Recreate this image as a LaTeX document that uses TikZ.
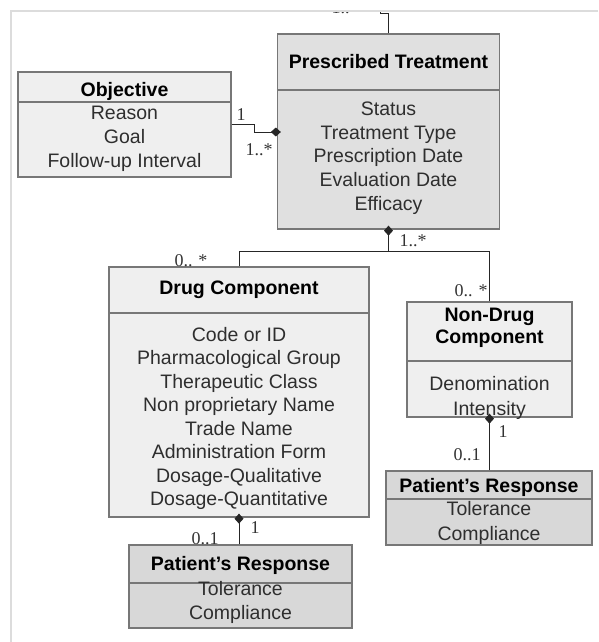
\documentclass[tikz,border=0pt]{standalone}
\usepackage{fontspec}
\setmainfont{Liberation Sans}
\newfontfamily\multfont{Liberation Serif}
\usetikzlibrary{arrows.meta}
\definecolor{boxline}{HTML}{777777}
\definecolor{lightfill}{HTML}{EFEFEF}
\definecolor{midfill}{HTML}{E0E0E0}
\definecolor{darkfill}{HTML}{D8D8D8}
\definecolor{framegray}{HTML}{DCDCDC}
\tikzset{
  classbox/.style={draw=boxline, line width=1.3pt, inner sep=0pt},
  divider/.style={draw=boxline, line width=1.3pt},
  classtitle/.style={anchor=base, inner sep=0pt, font=\fontsize{19.5}{23.5}\selectfont\bfseries},
  classattr/.style={anchor=base, inner sep=0pt, text=black!82, font=\fontsize{19.5}{23.5}\selectfont},
  assoc/.style={line width=1pt, black!85},
  owner/.style={assoc, shorten >=-4pt, -{Diamond[length=10pt,width=9pt]}},
  mult/.style={inner sep=0pt, text=black!80, font=\multfont\fontsize{18}{20}\selectfont},
}
\begin{document}
\begin{tikzpicture}[x=1pt,y=-1pt]
    \useasboundingbox (0,0) rectangle (598,642);
    % Class boxes
    \node[classbox, fill=lightfill, minimum width=213pt, minimum height=105pt] (obj) at (124.5,124.5) {};
    \node[classbox, fill=midfill, minimum width=222pt, minimum height=195pt] (pt) at (388.5,131.5) {};
    \node[classbox, fill=lightfill, minimum width=260pt, minimum height=250pt] (drug) at (239,392) {};
    \node[classbox, fill=lightfill, minimum width=165pt, minimum height=115pt] (nondrug) at (489.5,359.5) {};
    \node[classbox, fill=darkfill, minimum width=223pt, minimum height=83pt] (resp1) at (240.5,586.5) {};
    \node[classbox, fill=darkfill, minimum width=206pt, minimum height=74pt] (resp2) at (489,508) {};
    % Header dividers
    \draw[divider] (obj.west |- 0,102) -- (obj.east |- 0,102);
    \draw[divider] (pt.west |- 0,90) -- (pt.east |- 0,90);
    \draw[divider] (drug.west |- 0,313) -- (drug.east |- 0,313);
    \draw[divider] (nondrug.west |- 0,361) -- (nondrug.east |- 0,361);
    \draw[divider] (resp1.west |- 0,583) -- (resp1.east |- 0,583);
    \draw[divider] (resp2.west |- 0,499) -- (resp2.east |- 0,499);
    % Objective
    \node[classtitle] (obj-name) at (124.5,96) {Objective};
    \foreach \txt/\yy [count=\i] in {Reason/112, Goal/136, Follow-up Interval/160}
        \node[classattr] (obj-a\i) at (124.5,\yy+7) {\txt};
    % Prescribed Treatment
    \node[classtitle] (pt-name) at (388.5,69) {Prescribed Treatment};
    \foreach \txt/\yy [count=\i] in {Status/108, Treatment Type/132, Prescription Date/155, Evaluation Date/179, Efficacy/203}
        \node[classattr] (pt-a\i) at (388.5,\yy+7) {\txt};
    % Drug Component
    \node[classtitle] (drug-name) at (239,294) {Drug Component};
    \foreach \txt/\yy [count=\i] in {Code or ID/334, Pharmacological Group/357, Therapeutic Class/381, Non proprietary Name/404,
        Trade Name/428, Administration Form/451, Dosage-Qualitative/475, Dosage-Quantitative/498}
        \node[classattr] (drug-a\i) at (239,\yy+7) {\txt};
    % Non-Drug Component
    \node[classtitle] (nondrug-name1) at (489.5,321) {Non-Drug};
    \node[classtitle] (nondrug-name2) at (489.5,343) {Component};
    \node[classattr] (nondrug-a1) at (489.5,390) {Denomination};
    \node[classattr] (nondrug-a2) at (489.5,415) {Intensity};
    % Patient's Response (two of them)
    \node[classtitle] (resp1-name) at (240.5,570) {Patient’s Response};
    \node[classattr] (resp1-a1) at (240.5,595) {Tolerance};
    \node[classattr] (resp1-a2) at (240.5,619) {Compliance};
    \node[classtitle] (resp2-name) at (489,492) {Patient’s Response};
    \node[classattr] (resp2-a1) at (489,515) {Tolerance};
    \node[classattr] (resp2-a2) at (489,540) {Compliance};
    % Associations
    \coordinate (objlink) at (254,132);
    \draw[owner] (obj.east) -| (objlink) -- (objlink -| pt.west);
    \coordinate (ptbus) at (pt.south |- 0,251);
    \draw[owner] (drug.north) |- (ptbus) -- (pt.south);
    \draw[assoc] (nondrug.north) |- (ptbus);
    \draw[owner] (resp1.north -| drug.south) -- (drug.south);
    \draw[owner] (resp2.north -| nondrug.south) -- (nondrug.south);
    % Multiplicities
    \node[mult] (m-obj1) at (241,115) {1};
    \node[mult] (m-obj2) at (259,150) {1..*};
    \node[mult] (m-pt) at (413,241) {1..*};
    \node[mult] (m-drug) at (191,261) {0.. *};
    \node[mult] (m-nondrug) at (471,291) {0.. *};
    \node[mult] (m-resp1a) at (255,528) {1};
    \node[mult] (m-resp1b) at (205,539) {0..1};
    \node[mult] (m-resp2a) at (503,432) {1};
    \node[mult] (m-resp2b) at (467,455) {0..1};
    % Link leaving the top edge (cut off)
    \begin{scope}
        \clip (0,12.5) rectangle (598,642);
        \node[mult, anchor=base] (m-top) at (345,14) {1..*};
        \draw[assoc] (pt.north) |- (380,13.5) -- (380,0);
    \end{scope}
    % Frame
    \draw[framegray, line width=2pt] (598,11) -- (11,11) -- (11,642);
\end{tikzpicture}
\end{document}
